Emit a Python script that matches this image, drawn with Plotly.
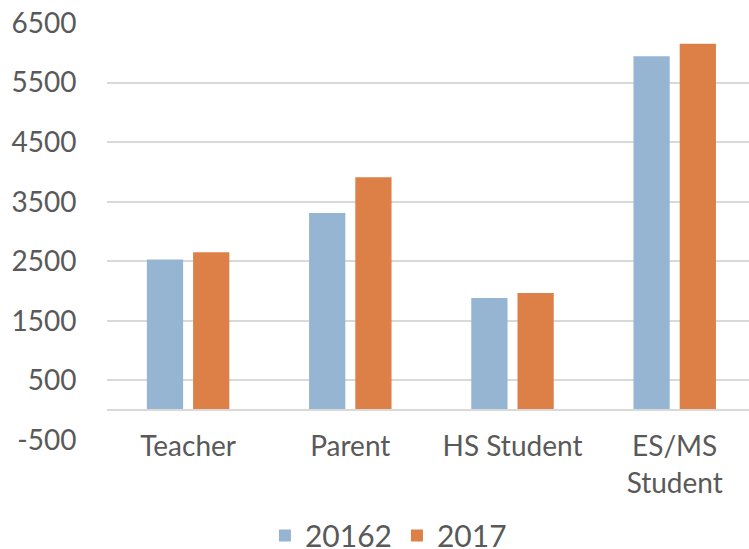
import plotly.graph_objects as go

categories = ["Teacher", "Parent", "HS Student", "ES/MS<br>Student"]
series_names = ["20162", "2017"]
values_2016 = [2530, 3310, 1885, 5945]
values_2017 = [2650, 3910, 1965, 6155]
y_ticks = [-500, 500, 1500, 2500, 3500, 4500, 5500, 6500]
y_tick_labels = ["-500", "500", "1500", "2500", "3500", "4500", "5500", "6500"]

colors = ["#95B5D3", "#DD8047"]
font_family = "Lato"
text_color = "#595959"

fig = go.Figure()
for name, vals, col in zip(series_names, [values_2016, values_2017], colors):
    fig.add_trace(go.Bar(x=categories, y=vals, name=name, marker_color=col,
                         marker_line_width=0))

fig.update_layout(
    width=749, height=549,
    margin=dict(l=107, r=0, t=23, b=109, autoexpand=False),
    paper_bgcolor="white", plot_bgcolor="white",
    barmode="group", bargap=0.43, bargroupgap=0.216,
    font=dict(family=font_family, color=text_color, size=28),
    legend=dict(orientation="h", x=0.246, xanchor="left", y=-0.229, yanchor="middle",
                font=dict(size=30, color=text_color), itemwidth=30),
    showlegend=True,
)
fig.update_yaxes(range=[-502, 6502], tickvals=y_ticks, ticktext=y_tick_labels,
                 showgrid=True, gridcolor="#D9D9D9", automargin=False,
                 gridwidth=1.5, zeroline=False, showline=False, ticks="outside", ticklen=24,
                 tickcolor="rgba(0,0,0,0)", tickfont=dict(size=28, color=text_color))
fig.update_xaxes(range=[-0.5, 3.458], anchor="free", position=502/7004, showline=True,
                 automargin=False,
                 linecolor="#D9D9D9", linewidth=1.5, showgrid=False, ticks="outside",
                 ticklen=12, tickcolor="rgba(0,0,0,0)", tickfont=dict(size=28, color=text_color))

fig.write_html("out.html", config={"displayModeBar": False},
               post_script="document.body.style.margin='0';document.body.style.overflow='hidden';")
